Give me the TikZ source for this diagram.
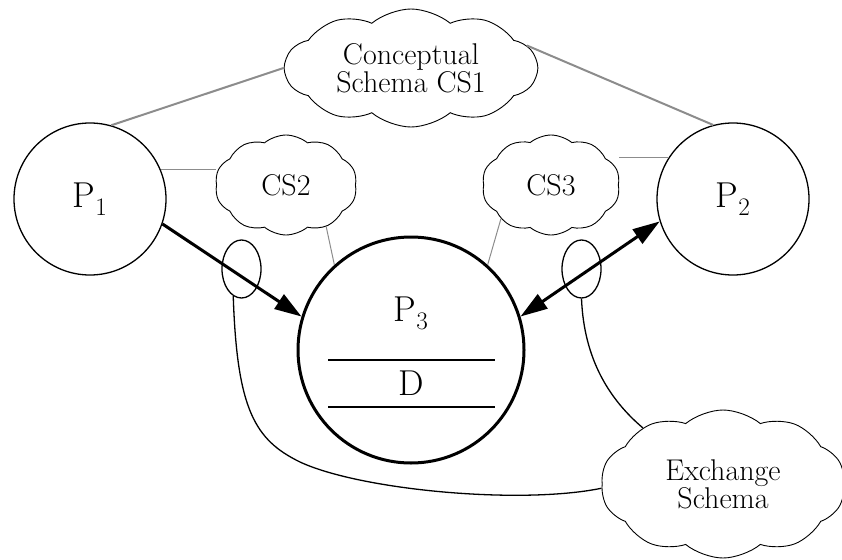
\documentclass[tikz,border=0pt]{standalone}
\usetikzlibrary{arrows.meta,shapes.symbols,shapes.geometric}

\begin{document}
\begin{tikzpicture}[x=1pt,y=-1pt,
  proc/.style={circle,draw,line width=1.3pt,minimum size=152pt,inner sep=0pt,font=\fontsize{36}{36}\selectfont},
  store/.style={circle,draw,line width=3pt,minimum size=226pt,inner sep=0pt},
  schema/.style={cloud,draw,cloud puffs=10,cloud puff arc=80,cloud ignores aspect,line width=0.9pt,
    align=center,inner sep=0pt,font=\fontsize{30}{22}\selectfont},
  link/.style={draw=black!45,line width=1pt},
  wide/.style={draw=black!45,line width=2pt},
  flow/.style={-{Triangle[length=27pt,width=17pt]},line width=3pt},
  both/.style={{Triangle[length=27pt,width=17pt]}-{Triangle[length=27pt,width=17pt]},line width=3pt},
  tap/.style={ellipse,draw,line width=1.3pt,minimum width=39pt,minimum height=58pt,inner sep=0pt},
  wire/.style={line width=1.3pt},
  plabel/.style={font=\fontsize{36}{36}\selectfont},
]
\useasboundingbox (0,0) rectangle (842,559);
\node[proc] (p1) at (90,199) {P\textsubscript{1}};
\node[proc] (p2) at (733,199) {P\textsubscript{2}};
\node[store] (p3) at (411,350) {};
\node[plabel] at (411,313) {P\textsubscript{3}};
\node[plabel] at (411,383) {D};
\draw[line width=1.5pt] ([shift={(-83,10)}]p3.center) -- ([shift={(84,10)}]p3.center);
\draw[line width=1.5pt] ([shift={(-83,57)}]p3.center) -- ([shift={(84,57)}]p3.center);
\node[schema,minimum width=252pt,minimum height=118pt] (cs1) at (411,68) {Conceptual\\Schema CS1};
\node[schema,minimum width=142pt,minimum height=100pt] (cs2) at (286,185) {CS2};
\node[schema,minimum width=138pt,minimum height=100pt] (cs3) at (551,185) {CS3};
\node[schema,minimum width=244pt,minimum height=148pt] (exs) at (723,484) {Exchange\\Schema};
\node[tap] (lt) at (241.5,269) {};
\node[tap] (rt) at (581.5,269) {};
\draw[wide] (p1.74) -- (cs1.180);
\draw[wide] (cs1.11) -- (p2.105);
\draw[link] (p1.23) -- (p1.23 -| cs2.west);
\draw[link] (cs2.-46) -- (p3.132);
\draw[link] (cs3.214) -- (p3.48);
\draw[link] (p2.147) -- (p2.147 -| cs3.east);
\draw[flow] (p1.-19) -- (p3.163);
\draw[both] (p3.17) -- (p2.197);
\draw[wire] (lt.253) .. controls (237,410) and (255,440) .. (300,462)
  .. controls (360,490) and (520,505) .. (exs.182);
\draw[wire] (rt.south) .. controls (584,360) and (610,400) .. (exs.145);
\end{tikzpicture}
\end{document}
